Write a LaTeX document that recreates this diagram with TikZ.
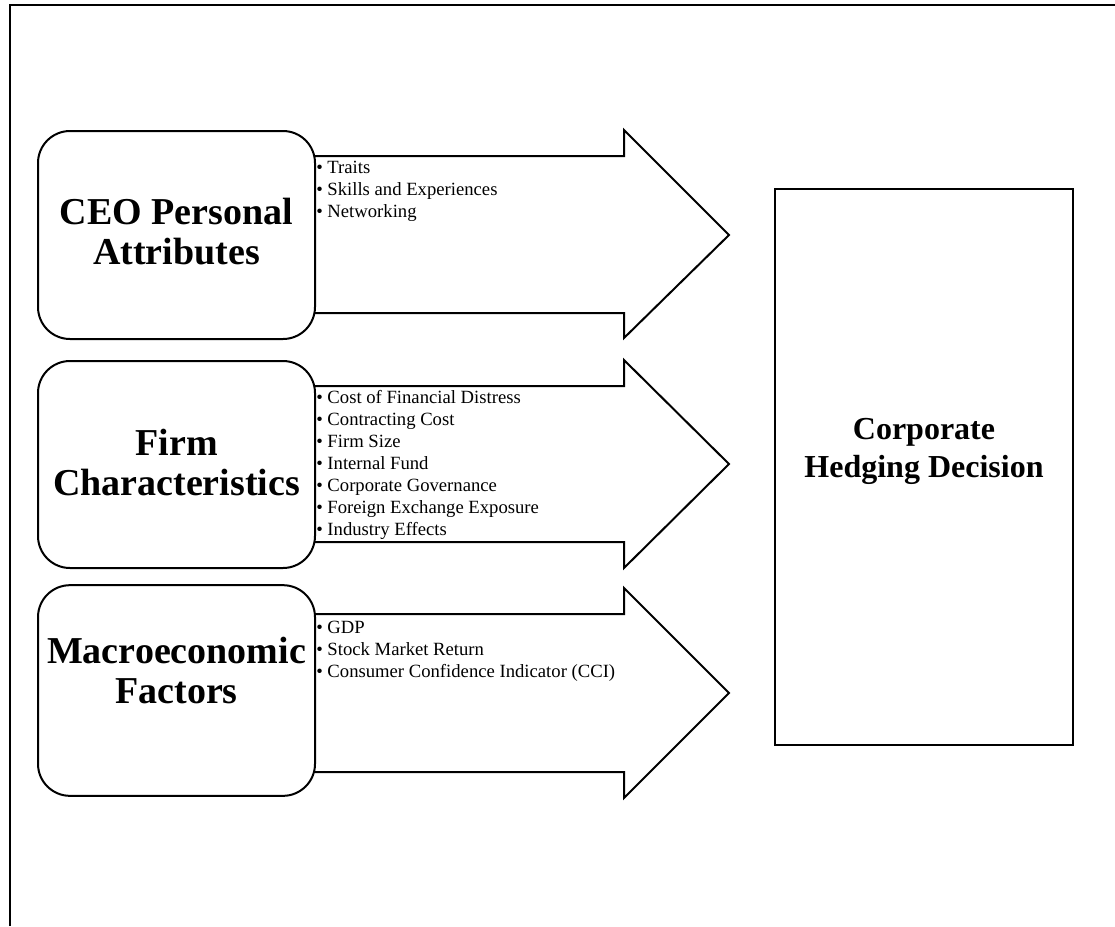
\documentclass[tikz,border=0pt]{standalone}
\usepackage{fontspec}
\setmainfont{Liberation Serif}

\begin{document}
\begin{tikzpicture}[x=0.75pt,y=0.75pt,yscale=-1,xscale=1,
    factorbox/.style={draw,line width=1.5pt,rounded corners=24pt,minimum width=207.75pt,inner sep=0pt},
    titletext/.style={align=center,inner sep=0.75pt,font=\fontsize{28.5}{30}\selectfont\bfseries},
    listtext/.style={anchor=north west,align=left,inner sep=0.75pt,font=\fontsize{14}{16.5}\selectfont},
    bigarrow/.style={line width=1.5pt,line join=miter}]
    \path[use as bounding box] (0,0) rectangle (1115,926);

    %Frame lines
    \draw[line width=1.8pt] (10,926) -- (10,5) -- (1115,5);

    %Block Arrows
    \draw[bigarrow] (315,156) -- (624,156) -- (624,130) -- (729,235) -- (624,338) -- (624,313) -- (315,313);
    \draw[bigarrow] (315,386) -- (624,386) -- (624,360) -- (729,464) -- (624,568) -- (624,542) -- (315,542);
    \draw[bigarrow] (315,614) -- (624,614) -- (624,588) -- (729,693) -- (624,798) -- (624,772) -- (315,772);

    %Rounded Rects
    \node[factorbox,minimum height=156pt] (ceo) at (176.5,235) {};
    \node[factorbox,minimum height=155.25pt] (firm) at (176.5,464.5) {};
    \node[factorbox,minimum height=158pt] (macro) at (176.5,690.5) {};

    %Rect
    \node[draw,line width=1.5pt,minimum width=223.5pt,minimum height=417pt,inner sep=0pt] (decision) at (924,467) {};

    % Text Node
    \node[titletext] (ceotitle) at (176.5,232) {CEO Personal\\Attributes};
    % Text Node
    \node[titletext] (firmtitle) at (176.5,462) {Firm\\Characteristics};
    % Text Node
    \node[titletext] (macrotitle) at (176.5,670) {Macroeconomic\\Factors};
    % Text Node
    \node[titletext,font=\fontsize{24}{28.5}\selectfont\bfseries] (decisiontitle) at (924,451) {Corporate\\Hedging Decision};

    % Text Node
    \node[listtext] (ceolist) at (315,160) {• Traits\\• Skills and Experiences\\• Networking};
    % Text Node
    \node[listtext] (firmlist) at (315,389) {• Cost of Financial Distress\\• Contracting Cost\\• Firm Size\\• Internal Fund\\• Corporate Governance\\• Foreign Exchange Exposure\\• Industry Effects};
    % Text Node
    \node[listtext] (macrolist) at (315,620) {• GDP\\• Stock Market Return\\• Consumer Confidence Indicator (CCI)};
\end{tikzpicture}
\end{document}
